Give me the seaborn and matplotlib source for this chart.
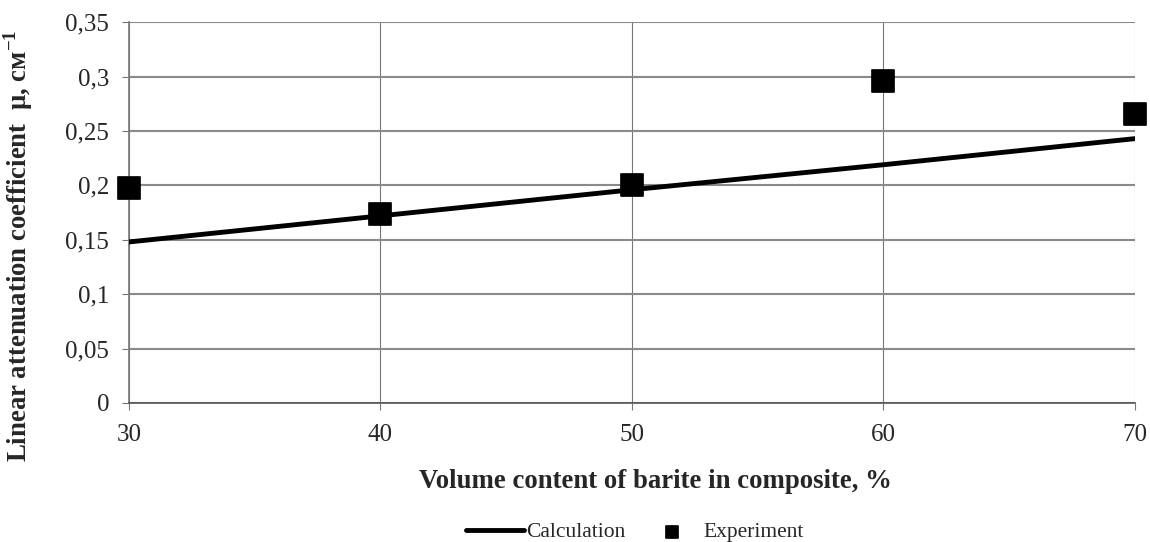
import matplotlib
matplotlib.use('Agg')
import matplotlib.pyplot as plt
import matplotlib.ticker as mticker
import seaborn as sns
import pandas as pd

# values
barite = [30, 40, 50, 60, 70]
calculation = [0.148, 0.172, 0.196, 0.219, 0.243]
experiment = [0.198, 0.174, 0.200, 0.296, 0.266]

df = pd.DataFrame({'barite': barite, 'calc': calculation, 'exp': experiment})

sns.set_style('white')
plt.rcParams['font.family'] = ['Liberation Serif', 'DejaVu Serif']
plt.rcParams['mathtext.fontset'] = 'custom'
plt.rcParams['mathtext.rm'] = 'Liberation Serif:bold'
plt.rcParams['mathtext.bf'] = 'Liberation Serif:bold'

fig = plt.figure(figsize=(11.5, 5.42), dpi=100)
ax = fig.add_axes([0.112, 0.2565, 0.875, 0.7025])

sns.lineplot(data=df, x='barite', y='calc', ax=ax, color='black', linewidth=3.5,
             label='Calculation', zorder=3)
sns.scatterplot(data=df, x='barite', y='exp', ax=ax, marker='s', s=240,
                color='black', edgecolor='black', label='Experiment', zorder=4,
                clip_on=False)

ax.set_xlim(30, 70)
ax.set_ylim(0, 0.35)
ax.set_xticks(barite)
ax.set_yticks([0, 0.05, 0.1, 0.15, 0.2, 0.25, 0.3, 0.35])
ax.yaxis.set_major_formatter(mticker.FuncFormatter(lambda v, p: f'{v:g}'.replace('.', ',')))

ax.grid(axis='y', color='#8a8a8a', linewidth=1.5)
ax.grid(axis='x', color='#777777', linewidth=0.8)
ax.set_axisbelow(True)
for side in ['top', 'right']:
    ax.spines[side].set_visible(False)
ax.spines['left'].set_color('#777777')
ax.spines['bottom'].set_color('#555555')
ax.spines['left'].set_linewidth(1.2)
ax.spines['bottom'].set_linewidth(1.2)

ax.tick_params(axis='both', labelsize=18, length=5, color='#777777', direction='out',
               left=True, bottom=True)
ax.tick_params(axis='y', pad=9)
ax.tick_params(axis='x', pad=10)

ax.set_xlabel('Volume content of barite in composite, %', fontsize=19.3, fontweight='bold')
ax.xaxis.set_label_coords(0.523, -0.205)
ax.xaxis.label.set_va('center')
ax.set_ylabel('Linear attenuation coefficient  μ, см$^{-1}$', fontsize=19.3, fontweight='bold')
ax.yaxis.set_label_coords(-0.110, 0.412)
ax.yaxis.label.set_va('center')

ax.get_legend().remove()
handles, labels = ax.get_legend_handles_labels()
fig.legend(handles, labels, loc='center', ncol=2, frameon=False, fontsize=15.5,
           bbox_to_anchor=(0.552, 0.018), handlelength=2.7, handletextpad=0.1,
           columnspacing=0.8, markerscale=0.55)

fig.savefig('out.png', dpi=100)
